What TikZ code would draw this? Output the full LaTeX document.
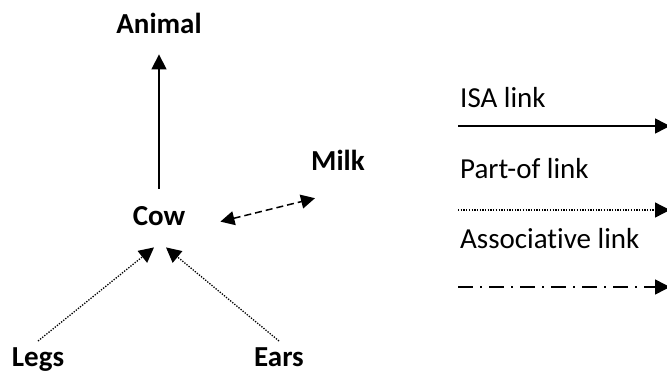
\documentclass[tikz,border=0pt]{standalone}
\usepackage{fontspec}
\setmainfont{Carlito}[Ligatures=NoCommon]
\usetikzlibrary{arrows.meta}

\tikzset{
  concept/.style = {font=\fontsize{29}{34}\selectfont\bfseries, inner sep=0pt, anchor=base},
  legend/.style = {font=\fontsize{29}{34}\selectfont, inner sep=0pt, anchor=base west},
  tip/.style = {-{Triangle[length=15pt, width=15pt]}},
  isalink/.style = {tip, line width=1.5pt},
  partlink/.style = {tip, line width=1.3pt, dash pattern=on 1.3pt off 1.4pt},
  assoclink/.style = {{Triangle[length=14pt, width=14pt]}-{Triangle[length=14pt, width=14pt]}, line width=1.5pt, dash pattern=on 7pt off 4pt},
  dashdotlink/.style = {tip, line width=1.5pt, dash pattern=on 15pt off 7pt on 2pt off 7pt}
}

\begin{document}
\begin{tikzpicture}[x=1pt, y=-1pt]
            \useasboundingbox (0,0) rectangle (667,373);

            %Concepts
            \node [concept] (animal)at(159,33){Animal};
            \node [concept] (cow)at(159,225){Cow};
            \node [concept] (milk)at(338,170){Milk};
            \node [concept] (legs)at(38,366){Legs};
            \node [concept] (ears)at(279,366){Ears};

            %Links
            \draw [isalink, shorten <=17pt, shorten >=21pt](cow.north)--(animal.south);
            \draw [partlink]([yshift=6pt]legs.north)--([xshift=-5pt, yshift=-22pt]cow.south);
            \draw [partlink]([yshift=6pt]ears.north)--([xshift=7pt, yshift=-22pt]cow.south);
            \draw [assoclink]([xshift=35pt, yshift=-6pt]cow.east)--([xshift=-23pt, yshift=-28pt]milk.south);

            %Legend
            \node [legend] (isa)at(460,107){ISA link};
            \node [legend] (partof)at(460,178){Part-of link};
            \node [legend] (assoc)at(460,248){Associative link};

            \coordinate (isa0)at(458,126);
            \coordinate (isa1)at(670,126);
            \coordinate (partof0)at(458,210);
            \coordinate (partof1)at(670,210);
            \coordinate (assoc0)at(458,287);
            \coordinate (assoc1)at(670,287);

            \draw [isalink](isa0)--(isa1);
            \draw [partlink](partof0)--(partof1);
            \draw [dashdotlink](assoc0)--(assoc1);

        \end{tikzpicture}
\end{document}
